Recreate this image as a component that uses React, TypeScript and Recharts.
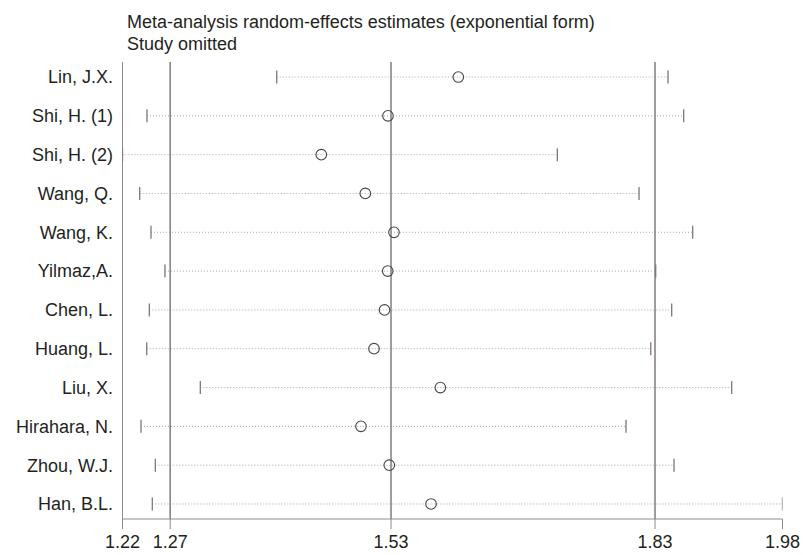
import React from 'react';
import { ComposedChart, Scatter, XAxis, YAxis, ReferenceLine } from 'recharts';

const studies = [
  'Lin, J.X.',
  'Shi, H. (1)',
  'Shi, H. (2)',
  'Wang, Q.',
  'Wang, K.',
  'Yilmaz,A.',
  'Chen, L.',
  'Huang, L.',
  'Liu, X.',
  'Hirahara, N.',
  'Zhou, W.J.',
  'Han, B.L.',
];

const estimate = [1.6067, 1.5257, 1.4489, 1.4996, 1.5326, 1.5254, 1.5217, 1.5096, 1.586, 1.4946, 1.5272, 1.5753];
const lower = [1.3976, 1.2482, 1.22, 1.2398, 1.2528, 1.2689, 1.2509, 1.2479, 1.3096, 1.2413, 1.2578, 1.2543];
const upper = [1.8482, 1.8662, 1.7207, 1.8148, 1.8766, 1.834, 1.8524, 1.8283, 1.9215, 1.7998, 1.8551, 1.98];

// overall estimate and its CI (drawn as full-height lines)
const overall = [1.2749, 1.5292, 1.8332];
const xTicks = [1.22, 1.2749, 1.5292, 1.8332, 1.98];

const rows = studies.map((name, i) => ({ name, y: i + 1, est: estimate[i], lo: lower[i], hi: upper[i] }));
const estPoints = rows.map((r) => ({ x: r.est, y: r.y }));
const endPoints = rows.flatMap((r) => [{ x: r.lo, y: r.y }, { x: r.hi, y: r.y }]);

const font = '"Liberation Sans", Arial, Helvetica, sans-serif';

const Circle = (props: any) => (
  <circle cx={props.cx} cy={props.cy} r={5.3} fill="none" stroke="#474343" strokeWidth={1.1} />
);

const EndBar = (props: any) => (
  <line x1={props.cx} x2={props.cx} y1={props.cy - 6.5} y2={props.cy + 6.5} stroke="#7d7777" strokeWidth={1.3} />
);

const App = () => {
  return (
    <div style={{ position: 'absolute', left: 0, top: 0, width: 805, height: 555, background: '#fff', fontFamily: font }}>
      <div
        style={{
          position: 'absolute',
          left: 127,
          top: 10.5,
          fontSize: 18,
          lineHeight: '22.5px',
          color: '#231f20',
          whiteSpace: 'nowrap',
        }}
      >
        Meta-analysis random-effects estimates (exponential form)
        <br />
        Study omitted
      </div>
      <ComposedChart width={805} height={555} margin={{ top: 62, right: 22.5, bottom: 0, left: 0 }}>
        <XAxis
          type="number"
          dataKey="x"
          domain={[1.22, 1.98]}
          allowDataOverflow
          ticks={xTicks}
          interval={0}
          tickFormatter={(v: number) => v.toFixed(2)}
          height={36}
          tickSize={10}
          tickMargin={6}
          stroke="#8f8a8a"
          tick={{ fill: '#231f20', fontSize: 18, fontFamily: font }}
        />
        <YAxis
          type="number"
          dataKey="y"
          domain={[0.613, 12.387]}
          allowDataOverflow
          reversed
          ticks={rows.map((r) => r.y)}
          interval={0}
          tickFormatter={(v: number) => studies[v - 1]}
          width={122.5}
          tickLine={false}
          tickSize={0}
          tickMargin={9.5}
          stroke="#8f8a8a"
          tick={{ fill: '#231f20', fontSize: 18, fontFamily: font }}
        />
        {rows.map((r) => (
          <ReferenceLine
            key={r.name}
            segment={[{ x: r.lo, y: r.y }, { x: r.hi, y: r.y }]}
            stroke="#a9a5a5"
            strokeWidth={1}
            strokeDasharray="1 2"
          />
        ))}
        {overall.map((v) => (
          <ReferenceLine key={v} x={v} stroke="#8a8383" strokeWidth={1.6} />
        ))}
        <Scatter data={endPoints} shape={EndBar} isAnimationActive={false} />
        <Scatter data={estPoints} shape={Circle} isAnimationActive={false} />
      </ComposedChart>
    </div>
  );
};

export default App;
